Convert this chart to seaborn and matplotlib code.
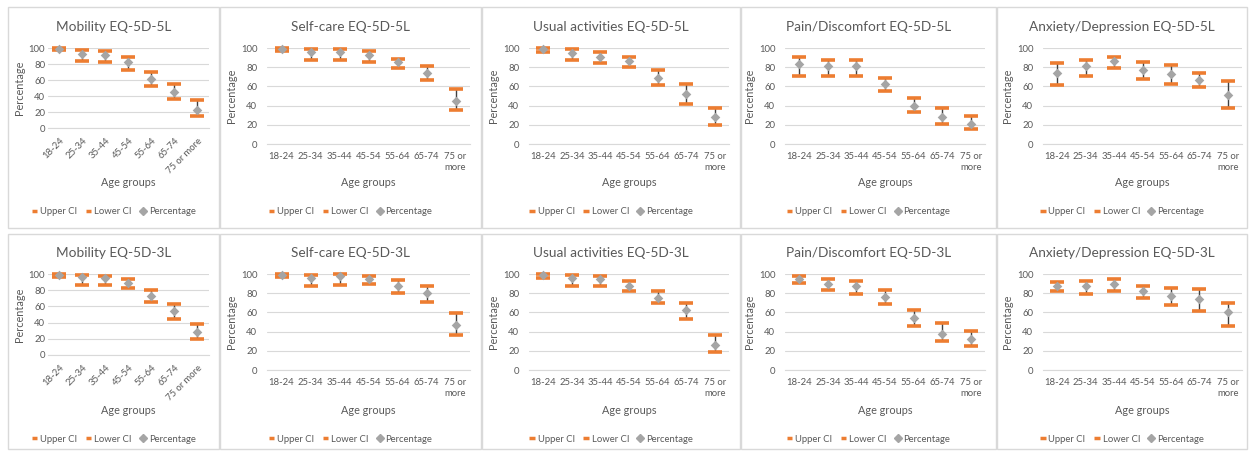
import numpy as np
import pandas as pd
import matplotlib
matplotlib.use("Agg")
import matplotlib.pyplot as plt
from matplotlib.patches import Rectangle
from matplotlib.lines import Line2D
import seaborn as sns

# ---------------------------
# data
# ---------------------------
ages = ['18-24', '25-34', '35-44', '45-54', '55-64', '65-74', '75 or more']

# EQ-5D-5L
mob5_upper = [100, 97, 96, 89, 70, 55, 35]
mob5_lower = [97, 84, 82, 72, 52, 36, 15]
mob5_pct = [99, 93, 91, 82, 61, 45, 23]

self5_upper = [100, 99, 99, 97, 89, 81, 57]
self5_lower = [97, 87, 88, 85, 79, 67, 35]
self5_pct = [99, 96, 96, 93, 85, 74, 45]

usual5_upper = [100, 99, 96, 91, 77, 62, 38]
usual5_lower = [96, 87, 84, 80, 61, 42, 20]
usual5_pct = [99, 95, 91, 86, 69, 52, 28]

pain5_upper = [91, 88, 88, 69, 48, 38, 29]
pain5_lower = [71, 71, 71, 55, 33, 21, 16]
pain5_pct = [83, 81, 81, 62, 40, 28, 21]

anx5_upper = [84, 88, 91, 85, 82, 74, 66]
anx5_lower = [61, 71, 79, 68, 63, 59, 37]
anx5_pct = [74, 81, 86, 77, 73, 67, 51]

# EQ-5D-3L
mob3_upper = [100, 99, 98, 94, 80, 63, 38]
mob3_lower = [96, 87, 87, 83, 65, 45, 20]
mob3_pct = [99, 96, 95, 89, 73, 54, 28]

self3_upper = [100, 99, 100, 98, 94, 87, 59]
self3_lower = [97, 87, 89, 90, 80, 71, 36]
self3_pct = [99, 96, 98, 95, 88, 80, 47]

usual3_upper = [100, 99, 98, 93, 82, 70, 36]
usual3_lower = [96, 87, 88, 82, 70, 53, 19]
usual3_pct = [99, 96, 95, 88, 75, 62, 26]

pain3_upper = [98, 95, 93, 83, 63, 49, 41]
pain3_lower = [91, 83, 79, 69, 46, 30, 25]
pain3_pct = [95, 90, 87, 76, 54, 38, 32]

anx3_upper = [92, 93, 95, 88, 85, 84, 70]
anx3_lower = [82, 79, 82, 75, 68, 61, 46]
anx3_pct = [88, 88, 90, 82, 77, 74, 60]

panels = [
    ['Mobility EQ-5D-5L', mob5_upper, mob5_lower, mob5_pct],
    ['Self-care EQ-5D-5L', self5_upper, self5_lower, self5_pct],
    ['Usual activities EQ-5D-5L', usual5_upper, usual5_lower, usual5_pct],
    ['Pain/Discomfort EQ-5D-5L', pain5_upper, pain5_lower, pain5_pct],
    ['Anxiety/Depression EQ-5D-5L', anx5_upper, anx5_lower, anx5_pct],
    ['Mobility EQ-5D-3L', mob3_upper, mob3_lower, mob3_pct],
    ['Self-care EQ-5D-3L', self3_upper, self3_lower, self3_pct],
    ['Usual activities EQ-5D-3L', usual3_upper, usual3_lower, usual3_pct],
    ['Pain/Discomfort EQ-5D-3L', pain3_upper, pain3_lower, pain3_pct],
    ['Anxiety/Depression EQ-5D-3L', anx3_upper, anx3_lower, anx3_pct],
]

# ---------------------------
# style
# ---------------------------
sns.set_theme(style='white')
plt.rcParams['font.family'] = ['Lato', 'DejaVu Sans']

ORANGE = '#ED7D31'
GREY = '#A5A5A5'
TEXT = '#595959'
GRID = '#D9D9D9'

W, H = 1250, 451
fig = plt.figure(figsize=(W / 100, H / 100), dpi=100)


def fx(x):
    return x / W


def fy(y):
    return 1 - y / H


# layout in pixels
box_x = [(8, 219), (220, 481), (482, 740), (741, 996), (997, 1247)]
box_y = [(7, 228), (234, 449)]
plot_x = [(48, 209), (267, 470), (529, 729), (785, 985), (1043, 1242)]
plot_y = [[(48, 128), (48, 144)], [(274, 355), (274, 370)]]
title_y = [27, 253]
xlabel_y = [183, 411]
legend_y = [212, 439]

legend_handles = [
    Line2D([], [], color=ORANGE, lw=2.5, solid_capstyle='butt'),
    Line2D([], [], color=ORANGE, lw=2.5, solid_capstyle='butt'),
    Line2D([], [], marker='D', color=GREY, ls='none', markersize=4),
]
legend_labels = ['Upper CI', 'Lower CI', 'Percentage']

for i, (title, up, lo, pct) in enumerate(panels):
    r, c = divmod(i, 5)
    bx0, bx1 = box_x[c]
    by0, by1 = box_y[r]
    fig.add_artist(Rectangle((fx(bx0), fy(by1)), fx(bx1 - bx0), (by1 - by0) / H,
                             transform=fig.transFigure, fill=False,
                             edgecolor=GRID, lw=1))

    px0, px1 = plot_x[c]
    py0, py1 = plot_y[r][0 if c == 0 else 1]
    ax = fig.add_axes([fx(px0), fy(py1), fx(px1 - px0), (py1 - py0) / H])

    df = pd.DataFrame({'age': ages, 'Upper CI': up, 'Lower CI': lo, 'Percentage': pct})
    df['pos'] = np.arange(len(ages))

    # high-low lines
    ax.vlines(df['pos'], df['Lower CI'], df['Upper CI'], color='#404040', lw=1, zorder=2)
    sns.scatterplot(data=df, x='pos', y='Upper CI', marker='_', s=90, color=ORANGE,
                    linewidth=2.6, ax=ax, zorder=3, clip_on=False)
    sns.scatterplot(data=df, x='pos', y='Lower CI', marker='_', s=90, color=ORANGE,
                    linewidth=2.6, ax=ax, zorder=3, clip_on=False)
    sns.scatterplot(data=df, x='pos', y='Percentage', marker='D', s=24, color=GREY,
                    edgecolor=GREY, linewidth=0, ax=ax, zorder=4, clip_on=False)

    ax.set_xlim(-0.5, 6.5)
    ax.set_ylim(0, 100)
    ax.set_yticks(range(0, 101, 20))
    ax.set_xticks(df['pos'])
    if c == 0:
        ax.set_xticklabels(ages, rotation=45, ha='right', rotation_mode='anchor')
    else:
        ax.set_xticklabels([a.replace('75 or ', '75 or\n') for a in ages])
    ax.tick_params(length=0, labelsize=6.8, colors=TEXT)
    ax.tick_params(axis='x', pad=6)
    ax.tick_params(axis='y', pad=2 if c == 0 else 7)
    ax.yaxis.grid(True, color=GRID, lw=0.8)
    ax.set_axisbelow(True)
    for s in ['top', 'right', 'left']:
        ax.spines[s].set_visible(False)
    ax.spines['bottom'].set_color(GRID)
    ax.spines['bottom'].set_linewidth(0.8)
    ax.set_xlabel('')
    ax.set_ylabel('Percentage', fontsize=7.8, color=TEXT, labelpad=3)

    fig.text(fx((bx0 + bx1) / 2), fy(title_y[r]), title, ha='center', va='center',
             fontsize=9.8, color=TEXT)
    fig.text(fx((px0 + px1) / 2), fy(xlabel_y[r]), 'Age groups', ha='center',
             va='center', fontsize=7.8, color=TEXT)
    fig.legend(legend_handles, legend_labels, loc='center',
               bbox_to_anchor=(fx((bx0 + bx1) / 2), fy(legend_y[r])), ncol=3,
               frameon=False, fontsize=6.8, labelcolor=TEXT, handlelength=0.6,
               handletextpad=0.3, columnspacing=0.9, borderpad=0)

fig.savefig('out.png', dpi=100, facecolor='white')
